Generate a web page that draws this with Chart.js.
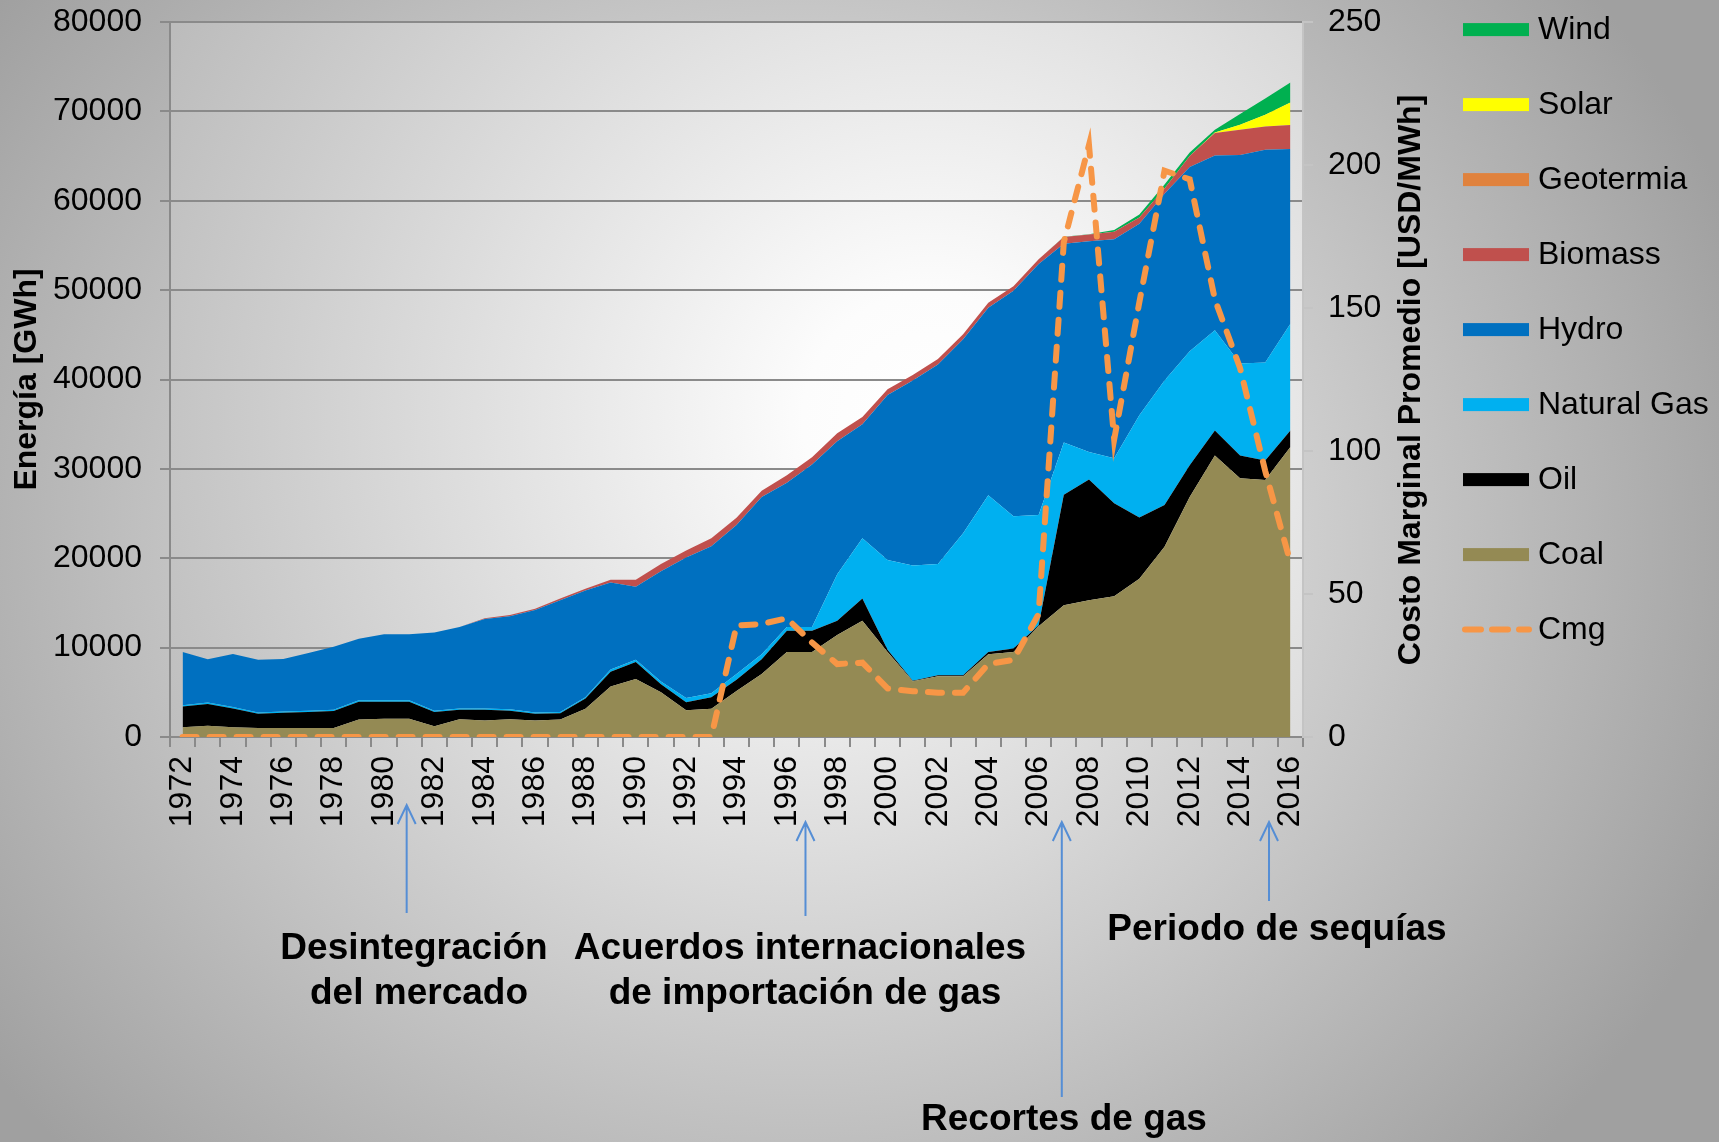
<!DOCTYPE html>
<html lang="es">
<head>
<meta charset="UTF-8">
<title>Generación eléctrica y costo marginal</title>
<script src="https://cdn.jsdelivr.net/npm/chart.js"></script>
<style>
  html, body { margin: 0; padding: 0; }
  body {
    width: 1719px; height: 1142px; overflow: hidden;
    background: radial-gradient(ellipse 1000px 900px at 800px 540px, #ffffff 0%, #f2f2f2 12%, #a0a0a0 100%);
  }
  #wrap { position: relative; width: 1719px; height: 1142px; }
</style>
</head>
<body>
<div id="wrap"><canvas id="grafico"></canvas></div>
<script>
// Años
const anios = ['1972','1973','1974','1975','1976','1977','1978','1979','1980','1981',
               '1982','1983','1984','1985','1986','1987','1988','1989','1990','1991',
               '1992','1993','1994','1995','1996','1997','1998','1999','2000','2001',
               '2002','2003','2004','2005','2006','2007','2008','2009','2010','2011',
               '2012','2013','2014','2015','2016'];

// Energía por fuente [GWh]
const coal = [1100,1250,1100,1000,1000,1000,1000,1950,2050,2050,
              1200,2000,1850,2000,1850,1950,3150,5650,6500,5000,
              3000,3150,5150,7050,9500,9500,11400,13000,9500,6250,
              6800,6800,9250,9500,12400,14750,15300,15750,17700,21300,
              26850,31500,28950,28750,32450];
const oil = [2300,2450,2100,1600,1700,1800,1900,2000,1900,1900,
             1600,1050,1200,950,750,700,1150,1650,1900,900,
             900,1300,1250,1650,2400,2400,1600,2500,250,50,
             100,100,250,400,100,12350,13500,10400,6850,4650,
             3550,2800,2550,2200,1850];
const naturalGas = [150,150,150,150,150,150,150,150,150,150,
                    150,150,150,150,150,150,150,250,250,300,
                    450,450,650,550,400,400,5200,6750,10050,12900,
                    12450,15900,17550,14800,12350,5850,3100,5050,11450,13950,
                    12750,11200,10300,10950,11950];
const hydro = [5950,4850,5930,5880,5890,6450,7050,6900,7400,7400,
               8750,9100,10000,10400,11450,12500,11950,9750,8150,12350,
               15730,16430,16670,17610,16140,18200,14900,12750,18460,20690,
               22330,21700,20980,25230,28060,22240,23560,24480,21420,20880,
               20620,19570,23310,23800,19530];
const biomass = [0,0,0,0,0,0,0,0,0,0,
                 0,0,100,150,150,200,200,300,800,800,
                 800,900,800,700,850,800,900,800,650,600,
                 600,550,550,500,550,750,750,850,700,600,
                 1250,2500,2830,2610,2690];
const geotermia = [0,0,0,0,0,0,0,0,0,0,
                   0,0,0,0,0,0,0,0,0,0,
                   0,0,0,0,0,0,0,0,0,0,
                   0,0,0,0,0,0,0,0,0,0,
                   0,0,0,0,0];
const solar = [0,0,0,0,0,0,0,0,0,0,
               0,0,0,0,0,0,0,0,0,0,
               0,0,0,0,0,0,0,0,0,0,
               0,0,0,0,0,0,0,0,0,0,
               0,70,560,1310,2530];
const wind = [0,0,0,0,0,0,0,0,0,0,
              0,0,0,0,0,0,0,0,0,0,
              0,0,0,0,0,0,0,0,0,0,
              0,0,0,0,0,20,50,200,350,450,
              390,300,1200,1830,2240];

// Costo marginal promedio [USD/MWh]
const cmg = [0,0,0,0,0,0,0,0,0,0,
             0,0,0,0,0,0,0,0,0,0,
             0,0,39,39.5,41.5,33,25.5,26,17,16,
             15.5,15.5,25.5,27,43,173,207,104,152,198,
             195,153,129,93,61];

// Hitos señalados bajo el eje
const hitosAnio = [1980.9, 1996.74, 2006.92, 2015.15];
const hitosTexto = [
  ['Desintegración', 'del mercado'],
  ['Acuerdos internacionales', 'de importación de gas'],
  ['Recortes de gas'],
  ['Periodo de sequías']
];

const FUENTE = "'Liberation Sans', Arial, sans-serif";
Chart.defaults.font.family = FUENTE;
Chart.defaults.color = '#000';

function area(label, data, color, fill) {
  return {
    label: label, data: data, yAxisID: 'y',
    backgroundColor: color, borderColor: color, borderWidth: 0,
    pointRadius: 0, tension: 0, fill: fill
  };
}

// sin relleno extra de las escalas, así el área queda donde la pone el layout
function sinPadding(s) {
  s.paddingTop = 0;
  s.paddingBottom = 0;
}

// fondo degradado del área de trazado
const fondoArea = {
  id: 'fondoArea',
  beforeDraw(chart) {
    const {ctx, chartArea: a} = chart;
    const g = ctx.createRadialGradient(930, 420, 0, 930, 420, 850);
    g.addColorStop(0, '#ffffff');
    g.addColorStop(0.15, '#fcfcfc');
    g.addColorStop(1, '#bcbcbc');
    ctx.save();
    ctx.fillStyle = g;
    ctx.fillRect(a.left, a.top, a.right - a.left, a.bottom - a.top);
    ctx.restore();
  }
};

// leyenda dibujada a mano (cajas a la derecha)
const leyenda = {
  id: 'leyenda',
  afterDraw(chart) {
    const ctx = chart.ctx;
    const areas = chart.data.datasets.filter(d => d.yAxisID === 'y').reverse();
    const linea = chart.data.datasets.find(d => d.yAxisID === 'y1');
    const items = areas.concat([linea]);
    ctx.save();
    ctx.font = '32px ' + FUENTE;
    ctx.textBaseline = 'middle';
    items.forEach((d, i) => {
      const y = 29.6 + i * 75;
      if (d.yAxisID === 'y1') {
        ctx.strokeStyle = d.borderColor;
        ctx.lineWidth = 6;
        ctx.lineCap = 'round';
        ctx.setLineDash([16, 11]);
        ctx.beginPath();
        ctx.moveTo(1465, y);
        ctx.lineTo(1529, y);
        ctx.stroke();
        ctx.setLineDash([]);
      } else {
        ctx.fillStyle = d.backgroundColor;
        ctx.fillRect(1463, y - 6.5, 66, 13);
      }
      ctx.fillStyle = '#000';
      ctx.fillText(d.label, 1538, y + 1);
    });
    ctx.restore();
  }
};

// título derecho (de abajo hacia arriba) y flechas de hitos
const extras = {
  id: 'extras',
  afterDraw(chart) {
    const ctx = chart.ctx;
    ctx.save();
    ctx.font = 'bold 32px ' + FUENTE;
    ctx.fillStyle = '#000';
    ctx.textAlign = 'center';
    ctx.textBaseline = 'middle';
    ctx.translate(1411, 380);
    ctx.rotate(-Math.PI / 2);
    ctx.fillText('Costo Marginal Promedio [USD/MWh]', 0, 0);
    ctx.restore();

    const x = chart.scales.x;
    const flechas = [[805, 913], [822, 916], [822, 1097], [822, 901]];
    ctx.save();
    ctx.strokeStyle = '#558ED5';
    ctx.lineWidth = 2;
    hitosAnio.forEach((a, i) => {
      const px = x.getPixelForValue(a - 1972);
      const [tip, fin] = flechas[i];
      ctx.beginPath();
      ctx.moveTo(px, fin);
      ctx.lineTo(px, tip);
      ctx.moveTo(px - 9, tip + 19);
      ctx.lineTo(px, tip);
      ctx.lineTo(px + 9, tip + 19);
      ctx.stroke();
    });
    ctx.restore();

    const textos = [[[414, 949], [419, 994]], [[800, 949], [805, 994]], [[1064, 1120]], [[1277, 930]]];
    ctx.save();
    ctx.font = 'bold 37px ' + FUENTE;
    ctx.fillStyle = '#000';
    ctx.textAlign = 'center';
    ctx.textBaseline = 'middle';
    hitosTexto.forEach((lineas, i) => {
      lineas.forEach((t, j) => ctx.fillText(t, textos[i][j][0], textos[i][j][1]));
    });
    ctx.restore();
  }
};

new Chart(document.getElementById('grafico'), {
  type: 'line',
  data: {
    labels: anios,
    datasets: [
      area('Coal', coal, '#948A54', 'origin'),
      area('Oil', oil, '#000000', '-1'),
      area('Natural Gas', naturalGas, '#00B0F0', '-1'),
      area('Hydro', hydro, '#0070C0', '-1'),
      area('Biomass', biomass, '#C0504D', '-1'),
      area('Geotermia', geotermia, '#E0823D', '-1'),
      area('Solar', solar, '#FFFF00', '-1'),
      area('Wind', wind, '#00B050', '-1'),
      {
        label: 'Cmg', data: cmg, yAxisID: 'y1', order: -1,
        borderColor: '#F79646', backgroundColor: '#F79646',
        borderWidth: 6, borderDash: [14, 13], borderCapStyle: 'round',
        pointRadius: 0, tension: 0, fill: false
      }
    ]
  },
  options: {
    responsive: true,
    maintainAspectRatio: false,
    animation: false,
    layout: { padding: { top: 22, bottom: 305, left: 0, right: 0 } },
    plugins: {
      legend: { display: false },
      tooltip: { enabled: false }
    },
    scales: {
      x: {
        offset: true,
        afterFit(s) { s.height = 100; s.paddingLeft = 0; s.paddingRight = 0; },
        grid: { offset: true, drawOnChartArea: false, color: '#8a8a8a', lineWidth: 2, tickLength: 10 },
        border: { color: '#8a8a8a', width: 2 },
        ticks: {
          autoSkip: false, minRotation: 90, maxRotation: 90, padding: 9,
          font: { size: 32 },
          callback: (v, i) => (i % 2 === 0 ? anios[i] : '')
        }
      },
      y: {
        position: 'left',
        stacked: true,
        min: 0, max: 80000,
        afterFit(s) { s.width = 170; sinPadding(s); },
        grid: { color: '#8a8a8a', lineWidth: 2, tickLength: 10 },
        border: { color: '#8a8a8a', width: 2 },
        ticks: { stepSize: 10000, padding: 18, font: { size: 32 }, callback: v => String(v) },
        title: {
          display: true, text: 'Energía [GWh]',
          font: { size: 32, weight: 'bold' }, padding: { top: 8, bottom: 0 }
        }
      },
      y1: {
        position: 'right',
        min: 0, max: 250,
        afterFit(s) { s.width = 416; sinPadding(s); },
        grid: { drawOnChartArea: false, color: '#c4c4c4', lineWidth: 2, tickLength: 10 },
        border: { color: '#c4c4c4', width: 2 },
        ticks: { stepSize: 50, padding: 15, font: { size: 32 }, callback: v => String(v) }
      }
    }
  },
  plugins: [fondoArea, leyenda, extras]
});
</script>
</body>
</html>
